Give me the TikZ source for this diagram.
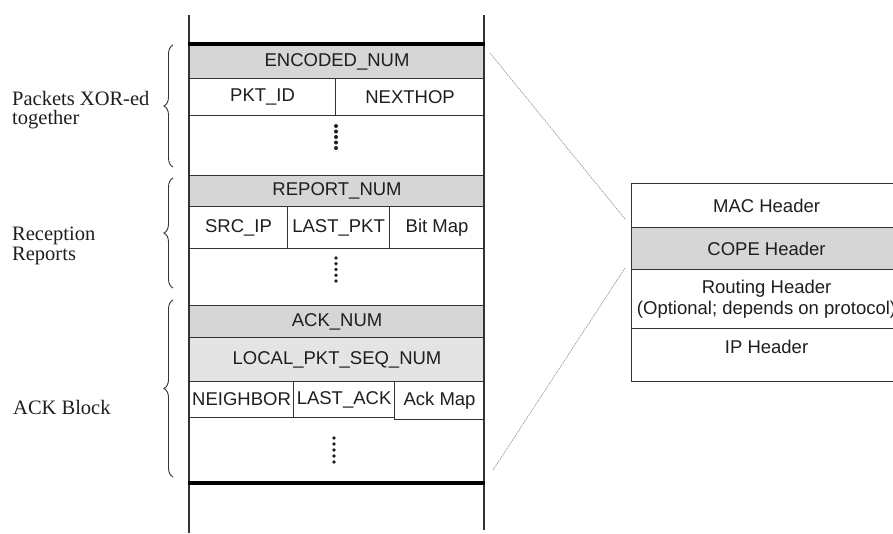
\documentclass[tikz,border=0pt]{standalone}
\usepackage{fontspec}
\setmainfont{Liberation Serif}
\setsansfont{Liberation Sans}
\usetikzlibrary{decorations.pathreplacing}
\definecolor{ln}{HTML}{333333}
\definecolor{hd}{HTML}{D6D6D6}
\definecolor{hl}{HTML}{E4E4E4}
\definecolor{tx}{HTML}{1E1E1E}
\definecolor{zoomln}{HTML}{9A9A9A}
\begin{document}
\begin{tikzpicture}[x=1pt,y=-1pt,
  cell/.style={draw=ln, line width=1.1pt, inner sep=0pt, anchor=north west,
    font=\fontsize{18.5}{21}\selectfont\sffamily, text=tx, align=center},
  hdrcell/.style={cell, fill=hd},
  lightcell/.style={cell, fill=hl},
  rule/.style={draw=ln, line width=1.1pt},
  thickrule/.style={draw=black, line width=4.5pt},
  lbl/.style={inner sep=0pt, anchor=west, align=left, text=tx,
    font=\fontsize{20.5}{19.5}\selectfont\rmfamily},
  bracestyle/.style={draw=ln, line width=0.9pt, decorate,
    decoration={brace, amplitude=9pt}},
  zoomline/.style={draw=zoomln, line width=0.7pt, dash pattern=on 1.6pt off 0.9pt},
  dotmark/.style={fill=tx, draw=none}
]
\useasboundingbox (0,0) rectangle (893,533);

% ---------- left column ----------
\node[hdrcell, minimum width=295, minimum height=34] (enc) at (189,44) {ENCODED\_NUM};
\node[cell, minimum width=146, minimum height=37] (pktid) at (189,78) {PKT\_ID};
\node[cell, minimum width=149, minimum height=37] (nexthop) at (335,78) {NEXTHOP};

\node[hdrcell, minimum width=295, minimum height=31] (rep) at (189,175) {REPORT\_NUM};
\node[cell, minimum width=98, minimum height=42] (src) at (189,206) {SRC\_IP};
\node[cell, minimum width=102, minimum height=42] (lastpkt) at (287,206) {LAST\_PKT};
\node[cell, minimum width=95, minimum height=42] (bitmap) at (389,206) {Bit Map};

\node[hdrcell, minimum width=295, minimum height=32] (ack) at (189,305) {ACK\_NUM};
\node[lightcell, minimum width=295, minimum height=44] (local) at (189,337) {LOCAL\_PKT\_SEQ\_NUM};
\node[cell, minimum width=104, minimum height=36] (neigh) at (189,381) {NEIGHBOR};
\node[cell, minimum width=101, minimum height=36] (lastack) at (293,381) {LAST\_ACK};
\node[cell, minimum width=90, minimum height=38] (ackmap) at (394,381) {Ack Map};

% outer vertical lines
\draw[rule] (189,15) -- (189,533);
\draw[rule] (484,15) -- (484,530);

% thick rules
\draw[thickrule] (188,44) -- (485,44);
\draw[thickrule] (188,483) -- (485,483);

% dots
\foreach \y in {126,131.5,137,142.5,148} \fill[dotmark] (336,\y) circle (2);
\foreach \y in {258,263.75,269.5,275.25,281} \fill[dotmark] (336,\y) circle (1.8);
\foreach \y in {438,444,450,456,462} \fill[dotmark] (334,\y) circle (1.8);

% ---------- braces and labels ----------
\draw[bracestyle] (173,167) -- (173,45);
\draw[bracestyle] (173,288) -- (173,178);
\draw[bracestyle] (173,477) -- (173,300);

\node[lbl] (l1) at (12,110) {Packets XOR-ed\\together};
\node[lbl] (l2) at (12,246) {Reception\\Reports};
\node[lbl] (l3) at (13,407) {ACK Block};

% ---------- right box ----------
\node[cell, minimum width=270, minimum height=44] (mac) at (631,183) {MAC Header};
\node[hdrcell, minimum width=270, minimum height=42] (cope) at (631,227) {COPE Header};
\node[cell, minimum width=270, minimum height=59] (routing) at (631,269) {Routing Header\\(Optional; depends on protocol)};
\node[cell, minimum width=270, minimum height=53,
  label={[anchor=center, yshift=-19pt, inner sep=0pt, text=tx,
    font=\fontsize{18.5}{21}\selectfont\sffamily]north:IP Header}] (ip) at (631,328) {};

% ---------- zoom lines ----------
\coordinate (za) at (490,53);
\coordinate (zb) at (625,219);
\coordinate (zc) at (493,470);
\coordinate (zd) at (625,268);
\draw[zoomline] (za) -- (zb);
\draw[zoomline] (zc) -- (zd);
\end{tikzpicture}
\end{document}
